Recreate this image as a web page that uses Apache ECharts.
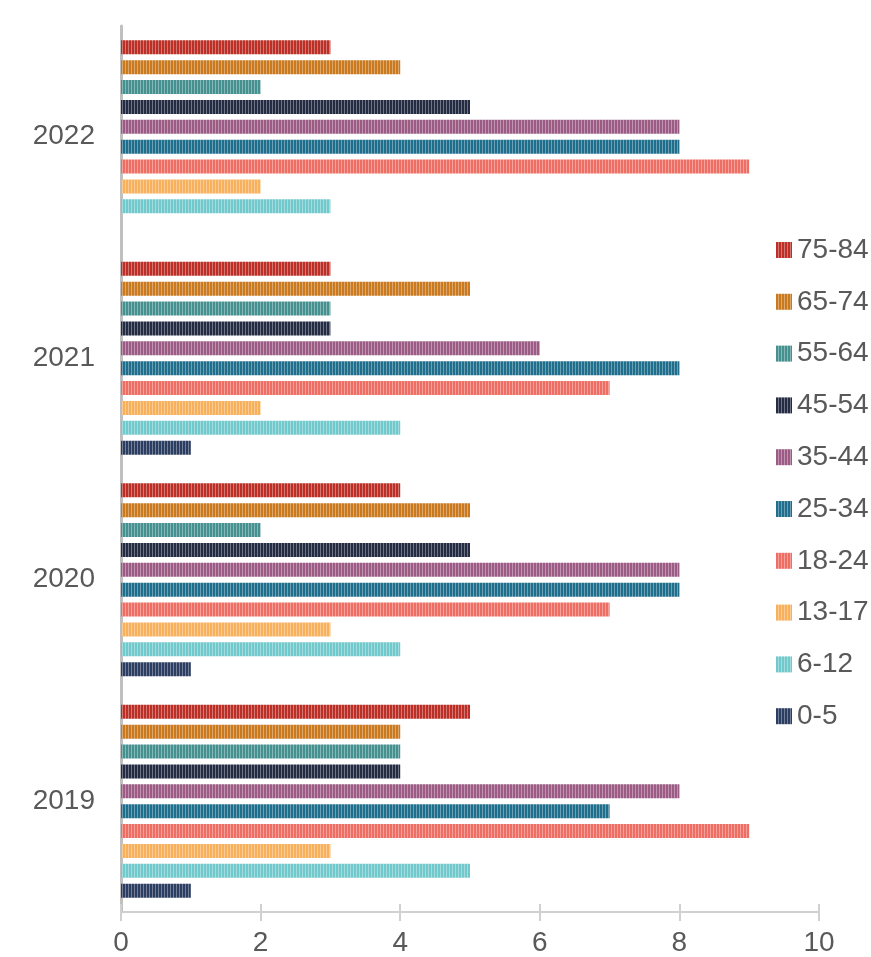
<!DOCTYPE html>
<html><head><meta charset="utf-8">
<script src="https://cdn.jsdelivr.net/npm/echarts@6/dist/echarts.min.js"></script>
<style>html,body{margin:0;padding:0;background:#fff}#c{width:871px;height:957px}</style>
</head><body><div id="c"></div>
<script>
const years = ['2019', '2020', '2021', '2022'];
const groups = ['75-84', '65-74', '55-64', '45-54', '35-44', '25-34', '18-24', '13-17', '6-12', '0-5'];
const v75_84 = [5, 4, 3, 3];
const v65_74 = [4, 5, 5, 4];
const v55_64 = [4, 2, 3, 2];
const v45_54 = [4, 5, 3, 5];
const v35_44 = [8, 8, 6, 8];
const v25_34 = [7, 8, 8, 8];
const v18_24 = [9, 7, 7, 9];
const v13_17 = [3, 3, 2, 2];
const v6_12  = [5, 4, 4, 3];
const v0_5   = [1, 1, 1, 0];
const xTicks = [0, 2, 4, 6, 8, 10];

const values = [v75_84, v65_74, v55_64, v45_54, v35_44, v25_34, v18_24, v13_17, v6_12, v0_5];
const colors = ['#bb2f27', '#c97a1f', '#45918f', '#232c43', '#9c5b85', '#1f6e8c', '#ee6e64', '#f7b05c', '#72c9cc', '#2b3d61'];

function stripe(color) {
  const c = document.createElement('canvas');
  c.width = 3; c.height = 4;
  const g = c.getContext('2d');
  g.fillStyle = color; g.fillRect(0, 0, 3, 4);
  g.fillStyle = 'rgba(255,255,255,0.35)'; g.fillRect(2, 0, 1, 4);
  return {image: c, repeat: 'repeat'};
}

const chart = echarts.init(document.getElementById('c'), null, {renderer: 'canvas'});
const txt = '#595959';
const font = 'Liberation Sans';
chart.setOption({
  animation: false,
  backgroundColor: '#fff',
  grid: {left: 121, right: 52, top: 26, bottom: 45, containLabel: false},
  legend: {
    orient: 'vertical', left: 776, top: 236, padding: 0,
    data: groups,
    itemWidth: 16, itemHeight: 16, itemGap: 23.8,
    icon: 'rect',
    textStyle: {fontSize: 28, lineHeight: 28, color: txt, fontFamily: font, padding: [0, 0, 0, 0]}
  },
  xAxis: [{
    type: 'value', min: 0, max: 10, interval: 2,
    axisLine: {show: true, lineStyle: {color: '#d0d0d0', width: 2}},
    axisTick: {show: true, length: 9, lineStyle: {color: '#d0d0d0', width: 2}},
    splitLine: {show: false},
    axisLabel: {fontSize: 28, color: txt, fontFamily: font, margin: 17,
      formatter: v => xTicks.includes(v) ? String(v) : ''}
  }, {
    type: 'value', min: 0, max: 10, interval: 2, position: 'bottom',
    axisLine: {show: false},
    axisTick: {show: true, inside: true, length: 8, lineStyle: {color: '#d0d0d0', width: 2}},
    splitLine: {show: false},
    axisLabel: {show: false}
  }],
  yAxis: {
    type: 'category', data: years,
    axisLine: {show: true, lineStyle: {color: '#c0c0c0', width: 3}},
    axisTick: {show: false},
    axisLabel: {fontSize: 28, color: txt, fontFamily: font, margin: 26}
  },
  series: groups.map((g, i) => ({
    name: g, type: 'bar', data: values[i],
    barWidth: 14, barGap: '42%',
    itemStyle: {color: stripe(colors[i])}
  }))
});
</script></body></html>
